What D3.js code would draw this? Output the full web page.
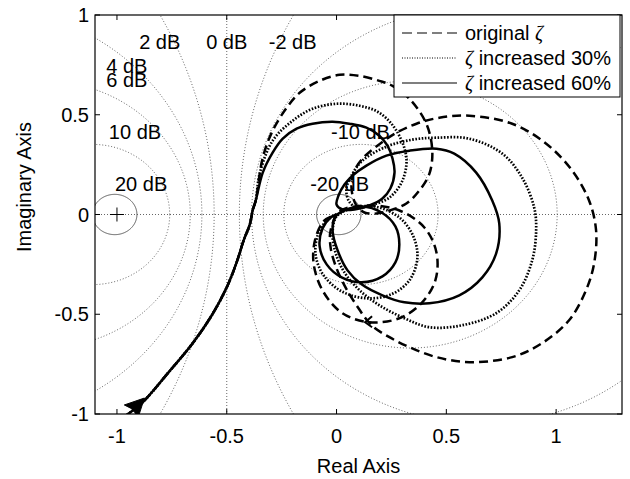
<!DOCTYPE html>
<html><head><meta charset="utf-8">
<script src="https://cdn.jsdelivr.net/npm/d3@7"></script>
<style>
body{margin:0;background:#fff;}
text{font-family:"Liberation Sans",Arial,Helvetica,sans-serif;fill:#000;}
</style></head>
<body><svg id="c" width="630" height="479"></svg>
<script>
// ---------- data ----------
const xTicks = [-1, -0.5, 0, 0.5, 1];
const yTicks = [-1, -0.5, 0, 0.5, 1];
const xTickLabels = ["-1", "-0.5", "0", "0.5", "1"];
const yTickLabels = ["-1", "-0.5", "0", "0.5", "1"];
const mCircleDb = [-20, -10, -6, -4, -2, 0, 2, 4, 6, 10, 20];
const dbLabelText = ["2 dB", "0 dB", "-2 dB", "4 dB", "6 dB", "10 dB", "20 dB", "-10 dB", "-20 dB"];
const seriesNames = ["original \u03B6", "\u03B6 increased 30%", "\u03B6 increased 60%"];

// low-frequency branch shared by the three curves
const lowFreq = [[-0.975,-1.025],[-0.955,-1.005],[-0.882,-0.94],[-0.768,-0.795],[-0.655,-0.645],
  [-0.568,-0.505],[-0.5,-0.365],[-0.455,-0.24],[-0.423,-0.13],[-0.395,-0.05],[-0.382,0.02],[-0.368,0.07]];

const originalZeta = [[-0.336,0.285],[-0.291,0.42],[-0.227,0.535],[-0.168,0.61],[-0.077,0.67],[0.014,0.70],
  [0.105,0.695],[0.195,0.67],[0.255,0.645],[0.332,0.58],[0.409,0.455],[0.436,0.32],[0.423,0.205],[0.377,0.12],
  [0.318,0.055],[0.241,0.02],[0.182,0.005],[0.127,0.01],[0.091,0.045],[0.073,0.095],[0.068,0.16],[0.082,0.22],
  [0.118,0.28],[0.186,0.345],[0.273,0.41],[0.364,0.455],[0.468,0.485],[0.605,0.495],[0.8,0.455],[0.955,0.355],
  [1.073,0.22],[1.15,0.07],[1.182,-0.08],[1.173,-0.245],[1.136,-0.38],[1.059,-0.53],[0.936,-0.645],[0.8,-0.715],
  [0.605,-0.74],[0.455,-0.715],[0.332,-0.665],[0.241,-0.615],[0.159,-0.555],[0.091,-0.455],[0.036,-0.355],
  [-0.005,-0.255],[-0.027,-0.165],[-0.027,-0.08],[0.014,0.015],[0.136,0.045],[0.286,0.02],[0.4,-0.065],
  [0.455,-0.19],[0.45,-0.33],[0.386,-0.445],[0.286,-0.52],[0.15,-0.54],[0.027,-0.495],[-0.064,-0.38],
  [-0.105,-0.24],[-0.095,-0.115],[-0.055,-0.03],[0,0]];

const zeta30 = [[-0.35,0.205],[-0.291,0.37],[-0.2,0.47],[-0.109,0.53],[0,0.555],[0.105,0.545],[0.195,0.51],
  [0.273,0.42],[0.318,0.285],[0.3,0.17],[0.241,0.085],[0.15,0.045],[0.091,0.035],[0.055,0.07],[0.045,0.13],
  [0.068,0.195],[0.118,0.27],[0.227,0.34],[0.345,0.375],[0.455,0.385],[0.605,0.38],[0.755,0.305],[0.845,0.185],
  [0.9,0.035],[0.909,-0.08],[0.891,-0.23],[0.832,-0.38],[0.727,-0.495],[0.573,-0.555],[0.423,-0.565],
  [0.309,-0.52],[0.195,-0.455],[0.105,-0.38],[0.036,-0.29],[-0.005,-0.19],[-0.018,-0.09],[0,-0.01],
  [0.068,0.03],[0.173,0.04],[0.286,-0.015],[0.35,-0.11],[0.368,-0.22],[0.332,-0.33],[0.25,-0.4],[0.136,-0.42],
  [0.023,-0.385],[-0.059,-0.305],[-0.095,-0.205],[-0.086,-0.105],[-0.045,-0.03],[0,0]];

const zeta60 = [[-0.336,0.21],[-0.291,0.31],[-0.245,0.38],[-0.182,0.43],[-0.109,0.455],[-0.018,0.465],
  [0.059,0.455],[0.136,0.435],[0.195,0.395],[0.232,0.345],[0.255,0.28],[0.264,0.21],[0.245,0.13],[0.209,0.08],
  [0.15,0.045],[0.082,0.025],[0.027,0.025],[0,0.05],[0.009,0.095],[0.036,0.15],[0.073,0.195],[0.136,0.245],
  [0.227,0.295],[0.332,0.32],[0.455,0.33],[0.536,0.305],[0.636,0.21],[0.709,0.07],[0.741,-0.045],[0.727,-0.195],
  [0.664,-0.315],[0.559,-0.405],[0.423,-0.445],[0.309,-0.44],[0.209,-0.405],[0.114,-0.35],[0.05,-0.28],
  [0.005,-0.18],[-0.018,-0.08],[-0.005,-0.01],[0.036,0.02],[0.114,0.04],[0.205,0.01],[0.268,-0.06],
  [0.286,-0.15],[0.268,-0.24],[0.209,-0.31],[0.114,-0.34],[0.023,-0.315],[-0.045,-0.25],[-0.077,-0.16],
  [-0.064,-0.07],[-0.027,-0.015],[0,0]];

// ---------- layout ----------
const W = 630, H = 479;
const plot = {left: 95, right: 622, top: 15, bottom: 414};
const FONT = 20;
const dbLabelPos = [[-0.805,0.83],[-0.5,0.83],[-0.2,0.83],[-0.955,0.71],[-0.955,0.64],[-0.918,0.38],[-0.89,0.12],[0.109,0.38],[0.014,0.12]];

const svg = d3.select("#c");
const x = d3.scaleLinear().domain([-1.1, 1.3]).range([plot.left, plot.right]);
const y = d3.scaleLinear().domain([-1, 1]).range([plot.bottom, plot.top]);

svg.append("rect").attr("width", W).attr("height", H).attr("fill", "#fff");
svg.append("defs").append("clipPath").attr("id", "clip").append("rect")
  .attr("x", plot.left).attr("y", plot.top).attr("width", plot.right - plot.left).attr("height", plot.bottom - plot.top);

const g = svg.append("g").attr("clip-path", "url(#clip)");

// ---------- M-circle grid ----------
const gridColor = "#555";
mCircleDb.forEach(db => {
  if (db === 0) {
    g.append("line").attr("x1", x(-0.5)).attr("x2", x(-0.5)).attr("y1", plot.top).attr("y2", plot.bottom)
      .attr("stroke", gridColor).attr("stroke-width", 0.9).attr("stroke-dasharray", "1,2");
    return;
  }
  const M = Math.pow(10, db / 20), M2 = M * M;
  const c = -M2 / (M2 - 1), r = Math.abs(M / (M2 - 1));
  const pts = d3.range(0, 361).map(a => [c + r * Math.cos(a * Math.PI / 180), r * Math.sin(a * Math.PI / 180)]);
  const solid = Math.abs(db) === 20;
  g.append("path").attr("d", d3.line().x(d => x(d[0])).y(d => y(d[1]))(pts))
    .attr("fill", "none").attr("stroke", solid ? "#444" : gridColor).attr("stroke-width", 0.9)
    .attr("stroke-dasharray", solid ? null : "1,2");
});
// real axis
g.append("line").attr("x1", plot.left).attr("x2", plot.right).attr("y1", y(0)).attr("y2", y(0))
  .attr("stroke", gridColor).attr("stroke-width", 0.9).attr("stroke-dasharray", "1,2");
// critical point
g.append("path").attr("d", `M${x(-1)-7},${y(0)}H${x(-1)+7}M${x(-1)},${y(0)-7}V${y(0)+7}`)
  .attr("stroke", "#000").attr("stroke-width", 1);

// dB labels
dbLabelText.forEach((t, i) => {
  svg.append("text").attr("x", x(dbLabelPos[i][0])).attr("y", y(dbLabelPos[i][1]))
    .attr("text-anchor", "middle").attr("font-size", FONT).text(t);
});

// ---------- curves ----------
const line = d3.line().x(d => x(d[0])).y(d => y(d[1])).curve(d3.curveCatmullRom.alpha(0.5));
const styles = [
  {dash: "9,5", w: 2.5},
  {dash: "1.6,1.6", w: 2.7},
  {dash: null, w: 2.5}
];
[originalZeta, zeta30, zeta60].forEach((s, i) => {
  g.append("path").attr("d", line(lowFreq.concat(s))).attr("fill", "none")
    .attr("stroke", "#000").attr("stroke-width", styles[i].w)
    .attr("stroke-dasharray", styles[i].dash).attr("stroke-linejoin", "round");
});

// direction arrow on the low-frequency branch
(function () {
  const a = lowFreq[1], b = lowFreq[3];
  const tip = [x(-0.875), y(-0.92)];
  const dx = x(b[0]) - x(a[0]), dy = y(b[1]) - y(a[1]);
  const L = Math.hypot(dx, dy), ux = dx / L, uy = dy / L;
  const len = 19, hw = 9.5;
  const bx = tip[0] - ux * len, by = tip[1] - uy * len;
  g.append("path").attr("d", `M${tip[0]},${tip[1]}L${bx - uy * hw},${by + ux * hw}L${bx + ux * 3},${by + uy * 3}L${bx + uy * hw},${by - ux * hw}Z`)
    .attr("fill", "#000").attr("stroke", "#000").attr("stroke-width", 1).attr("stroke-linejoin", "round");
})();
// small chevron on dashed curve bottom
(function () {
  const cx = x(0.13), cy = y(-0.54);
  g.append("path").attr("d", `M${cx + 7},${cy - 6}L${cx},${cy}L${cx + 7},${cy + 5}`)
    .attr("fill", "none").attr("stroke", "#000").attr("stroke-width", 2);
})();

// ---------- axes ----------
const ax = svg.append("g");
ax.append("rect").attr("x", plot.left).attr("y", plot.top).attr("width", plot.right - plot.left)
  .attr("height", plot.bottom - plot.top).attr("fill", "none").attr("stroke", "#000").attr("stroke-width", 1.2);
const tl = 5;
xTicks.forEach((t, i) => {
  ax.append("line").attr("x1", x(t)).attr("x2", x(t)).attr("y1", plot.bottom).attr("y2", plot.bottom - tl).attr("stroke", "#000");
  ax.append("line").attr("x1", x(t)).attr("x2", x(t)).attr("y1", plot.top).attr("y2", plot.top + tl).attr("stroke", "#000");
  ax.append("text").attr("x", x(t)).attr("y", 443).attr("text-anchor", "middle").attr("font-size", FONT).text(xTickLabels[i]);
});
yTicks.forEach((t, i) => {
  ax.append("line").attr("x1", plot.left).attr("x2", plot.left + tl).attr("y1", y(t)).attr("y2", y(t)).attr("stroke", "#000");
  ax.append("line").attr("x1", plot.right).attr("x2", plot.right - tl).attr("y1", y(t)).attr("y2", y(t)).attr("stroke", "#000");
  ax.append("text").attr("x", 89).attr("y", y(t) + 7).attr("text-anchor", "end").attr("font-size", FONT).text(yTickLabels[i]);
});
svg.append("text").attr("x", (plot.left + plot.right) / 2).attr("y", 473).attr("text-anchor", "middle")
  .attr("font-size", FONT).text("Real Axis");
svg.append("text").attr("transform", "translate(31,187) rotate(-90)").attr("text-anchor", "middle")
  .attr("font-size", FONT).text("Imaginary Axis");

// ---------- legend ----------
const lg = svg.append("g");
lg.append("rect").attr("x", 394).attr("y", 15).attr("width", 226).attr("height", 82)
  .attr("fill", "#fff").attr("stroke", "#000").attr("stroke-width", 1);
const legDash = ["10,5", "1,1.5", null];
seriesNames.forEach((name, i) => {
  const by = 40 + i * 25;
  lg.append("line").attr("x1", 402).attr("x2", 457).attr("y1", by - 7).attr("y2", by - 7)
    .attr("stroke", "#000").attr("stroke-width", 1.1).attr("stroke-dasharray", legDash[i]);
  const t = lg.append("text").attr("x", 465).attr("y", by).attr("font-size", FONT);
  const parts = name.split("\u03B6");
  parts.forEach((p, k) => {
    if (k > 0) t.append("tspan").attr("font-family", "'Liberation Serif','DejaVu Serif',serif").attr("font-style", "italic").text("\u03B6");
    if (p) t.append("tspan").text(p);
  });
});
</script>
</body></html>
